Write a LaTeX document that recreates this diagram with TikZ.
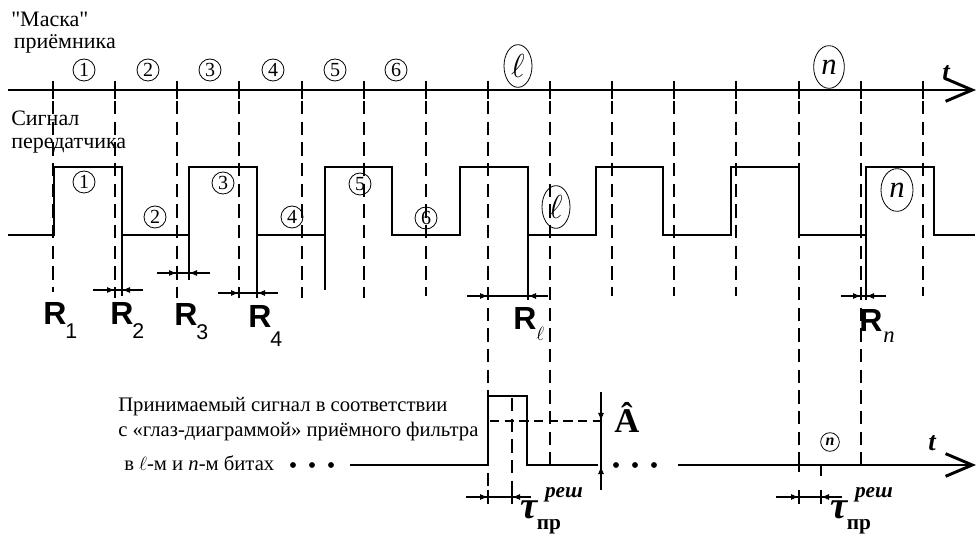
\documentclass[tikz,border=0pt]{standalone}
\usepackage{fontspec}
\setmainfont{Liberation Serif}
\newfontfamily\arialf{Liberation Sans}
\newfontfamily\rawserif{Liberation Serif}
\usetikzlibrary{arrows.meta,shapes.geometric}
\newcommand{\fsz}[1]{\fontsize{#1}{#1}\selectfont}
\begin{document}
\begin{tikzpicture}[x=0.75pt,y=-0.75pt,
  sig/.style={line width=2.2pt, line join=miter},
  ax/.style={line width=2.2pt},
  mtick/.style={line width=1.4pt},
  dl/.style={line width=0.9pt, dash pattern=on 10pt off 5.5pt},
  ext/.style={line width=0.9pt},
  dimline/.style={line width=0.8pt},
  dimarr/.style={line width=0.8pt, -{Latex[length=6pt,width=4.5pt]}},
  axarr/.style={-{Straight Barb[length=20pt,width=17pt]}},
  cnum/.style={draw, circle, line width=0.6pt, inner sep=0pt, minimum size=16.5pt, font=\fsz{15}},
  cell/.style={draw, ellipse, line width=0.6pt, inner sep=0pt, minimum width=21pt, minimum height=32pt, font=\fsz{23}},
  txt/.style={font=\fsz{15.5}, inner sep=0pt, anchor=west},
  ltxt/.style={font=\fontsize{16.5}{18}\selectfont, inner sep=0pt, anchor=west, align=left},
  Rlab/.style={font=\arialf\bfseries\fsz{24}, inner sep=0pt, anchor=base},
  Rsub/.style={font=\arialf\fsz{16}, inner sep=0pt, anchor=base west},
  tlab/.style={font=\bfseries\itshape\fsz{20}, inner sep=0pt}
]
\useasboundingbox (0,0) rectangle (978,541);

% ---------- labels on the left ----------
\node[ltxt] (masklab) at (11,33) {{\rawserif"Маска"}\\[-1.5pt]\hspace{2pt}приёмника};
\node[ltxt] (siglab) at (11,132) {Сигнал\\[-0.5pt]передатчика};

% ---------- receiver mask axis ----------
\coordinate (mA) at (8,90);
\coordinate (mB) at (976,90);
\draw[ax,axarr] (mA) -- (mB);
\node[tlab] (t1) at (946,73) {t};
\foreach \x in {53,115,177,239,302,364,426,488,550,612,674,736,799,861,923}
  \draw[mtick] (\x,81) -- (\x,99);

% dashed lines from mask ticks
\foreach \x/\e in {53/292,115/298,177/298,239/298,302/298,364/298,426/296,488/503,550/465,612/296,674/296,736/296,799/470,861/465,923/296}
  \draw[dl] (\x,101) -- (\x,\e);

% circled numbers on the mask
\node[cnum] (m1) at (84,70) {1};
\node[cnum] (m2) at (148,70) {2};
\node[cnum] (m3) at (210,70) {3};
\node[cnum] (m4) at (273,70) {4};
\node[cnum] (m5) at (335,70) {5};
\node[cnum] (m6) at (396,70) {6};
\node[cell] (ml) at (518,66) {$\ell$};
\node[cell, minimum width=23pt] (mn) at (829,67) {\textit{n}};

% ---------- transmitter signal ----------
\draw[sig] (8,235) -- (54,235) -- (54,167) -- (122,167) -- (122,235) -- (189,235) -- (189,167)
  -- (257,167) -- (257,235) -- (325,235) -- (325,167) -- (392,167) -- (392,235) -- (460,235)
  -- (460,167) -- (528,167) -- (528,235) -- (596,235) -- (596,167) -- (663,167) -- (663,235)
  -- (731,235) -- (731,167) -- (799,167) -- (799,235) -- (866,235) -- (866,167) -- (934,167)
  -- (934,235) -- (975,235);

% solid extensions of signal edges
\draw[ext] (122,235) -- (122,296);
\draw[ext] (189,235) -- (189,280);
\draw[ext] (257,235) -- (257,298);
\draw[ext] (325,235) -- (325,290);
\draw[ext] (528,235) -- (528,300);
\draw[ext] (866,235) -- (866,300);

% circled numbers on the signal
\node[cnum] (s1) at (84,182) {1};
\node[cnum] (s2) at (155,217) {2};
\node[cnum] (s3) at (223,183) {3};
\node[cnum] (s4) at (292,217) {4};
\node[cnum] (s5) at (360,184) {5};
\node[cnum] (s6) at (426,218) {6};
\node[cell] (sl) at (556,207) {$\ell$};
\node[cell, minimum width=24pt] (sn) at (897,190) {\textit{n}};

% ---------- R dimensions ----------
\draw[dimline] (93,290) -- (143,290);
\draw[dimarr] (93,290) -- (115,290);
\draw[dimarr] (143,290) -- (122,290);

\draw[dimline] (157,273) -- (210,273);
\draw[dimarr] (157,273) -- (177,273);
\draw[dimarr] (210,273) -- (189,273);

\draw[dimline] (218,293) -- (278,293);
\draw[dimarr] (218,293) -- (239,293);
\draw[dimarr] (278,293) -- (257,293);

\draw[dimline] (467,296) -- (548,296);
\draw[dimarr] (467,296) -- (488,296);
\draw[dimarr] (548,296) -- (528,296);

\draw[dimline] (841,296) -- (886,296);
\draw[dimarr] (841,296) -- (861,296);
\draw[dimarr] (886,296) -- (866,296);

\node[Rlab] (R1) at (55,325) {R};
\node[Rsub] (R1s) at (65,339) {1};
\node[Rlab] (R2) at (122,325) {R};
\node[Rsub] (R2s) at (132,339) {2};
\node[Rlab] (R3) at (186,326) {R};
\node[Rsub] (R3s) at (196,340) {3};
\node[Rlab] (R4) at (260,328) {R};
\node[Rsub] (R4s) at (270,347) {4};
\node[Rlab] (Rl) at (525,330) {R};
\node[Rsub, font=\fsz{14}] (Rls) at (536,341) {$\ell$};
\node[Rlab] (Rn) at (871,332) {R};
\node[Rsub, font=\itshape\fsz{17}] (Rns) at (883,343) {n};

% ---------- received signal ----------
\node[txt] (b1) at (118,407) {Принимаемый сигнал в соответствии};
\node[txt] (b2) at (118,432) {с «глаз-диаграммой» приёмного фильтра};
\node[txt] (b3) at (124,463) {в $\ell$-м и \textit{n}-м битах};

\fill (293,465) circle[radius=2.2pt];
\fill (312,465) circle[radius=2.2pt];
\fill (331,465) circle[radius=2.2pt];
\draw[sig] (350,465) -- (488,465) -- (488,396) -- (527,396) -- (527,465) -- (598,465);
\fill (616,465) circle[radius=2.2pt];
\fill (635,465) circle[radius=2.2pt];
\fill (654,465) circle[radius=2.2pt];
\coordinate (bA) at (678,465);
\coordinate (bB) at (976,465);
\draw[ax,axarr] (bA) -- (bB);
\node[tlab] (t2) at (932,443) {t};

% decision level and amplitude
\draw[line width=0.8pt, dash pattern=on 7pt off 4pt] (490,421) -- (601,421);
\draw[dimline] (601,392) -- (601,490);
\draw[dimarr] (601,398) -- (601,421);
\draw[dimarr] (601,488) -- (601,466);
\node[font=\bfseries\fsz{26}, inner sep=0pt] (Ahat) at (627,417) {Â};

% sampling point in l-th bit
\draw[dl] (512,398) -- (512,503);
\draw[mtick] (550,456) -- (550,465);
\draw[ext] (488,490) -- (488,504);
\draw[ext] (512,490) -- (512,504);
\draw[dimline] (466,497) -- (531,497);
\draw[dimarr] (466,497) -- (488,497);
\draw[dimarr] (531,497) -- (512,497);
\node[font=\bfseries\itshape\fsz{29}, inner sep=0pt] (tau1) at (529,510) {τ};
\node[font=\bfseries\itshape\fsz{16}, inner sep=0pt] (res1) at (564,495) {реш};
\node[font=\bfseries\fsz{16}, inner sep=0pt] (pr1) at (549,527) {пр};

% sampling point in n-th bit
\draw[mtick] (799,455) -- (799,472);
\draw[mtick] (861,455) -- (861,465);
\draw[mtick] (821,465) -- (821,476);
\node[cnum, minimum size=14pt, font=\bfseries\itshape\fsz{12}] (bn) at (830,442) {n};
\draw[ext] (799,490) -- (799,504);
\draw[ext] (821,490) -- (821,504);
\draw[dimline] (776,497) -- (842,497);
\draw[dimarr] (776,497) -- (799,497);
\draw[dimarr] (842,497) -- (821,497);
\node[font=\bfseries\itshape\fsz{29}, inner sep=0pt] (tau2) at (839,510) {τ};
\node[font=\bfseries\itshape\fsz{16}, inner sep=0pt] (res2) at (874,495) {реш};
\node[font=\bfseries\fsz{16}, inner sep=0pt] (pr2) at (859,527) {пр};
\end{tikzpicture}
\end{document}
